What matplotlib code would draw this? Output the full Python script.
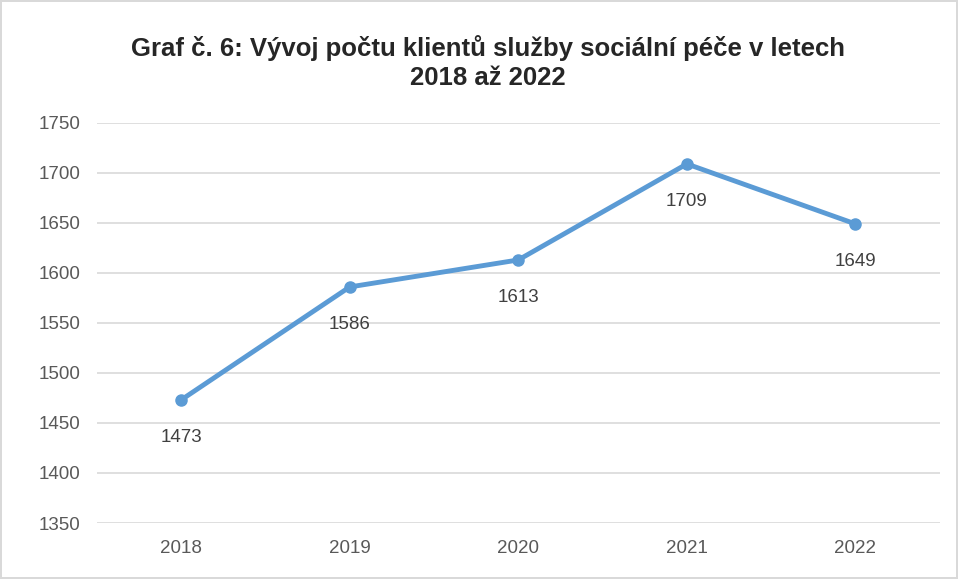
import matplotlib.pyplot as plt

# Data
years = ['2018', '2019', '2020', '2021', '2022']
clients = [1473, 1586, 1613, 1709, 1649]
yticks = [1350, 1400, 1450, 1500, 1550, 1600, 1650, 1700, 1750]

plt.rcParams['font.family'] = ['Liberation Sans', 'DejaVu Sans']

fig = plt.figure(figsize=(9.58, 5.79), dpi=100)
fig.patch.set_edgecolor('#D9D9D9')
fig.patch.set_linewidth(1.5)
ax = fig.add_axes([0.101, 0.0967, 0.880, 0.691])

x = range(len(years))
ax.plot(x, clients, color='#5B9BD5', linewidth=3.5, marker='o', markersize=8)
for xi, v in zip(x, clients):
    ax.annotate(str(v), (xi, v), textcoords='offset points', xytext=(0, -27),
                ha='center', va='center', fontsize=13.5, color='#404040')

ax.set_xlim(-0.5, len(years) - 0.5)
ax.set_ylim(1350, 1750)
ax.set_xticks(list(x))
ax.set_xticklabels(years)
ax.set_yticks(yticks)
ax.tick_params(axis='both', length=0, labelsize=13.5, colors='#595959')
ax.tick_params(axis='x', pad=12)
ax.tick_params(axis='y', pad=12)
ax.grid(axis='y', color='#D9D9D9', linewidth=1.2)
ax.set_axisbelow(True)
for s in ax.spines.values():
    s.set_visible(False)

fig.suptitle('Graf č. 6: Vývoj počtu klientů služby sociální péče v letech\n2018 až 2022',
             x=0.509, y=0.94, fontsize=18.5, fontweight='bold', color='#262626', linespacing=1.3)

fig.savefig('out.png', dpi=100, edgecolor=fig.get_edgecolor())
